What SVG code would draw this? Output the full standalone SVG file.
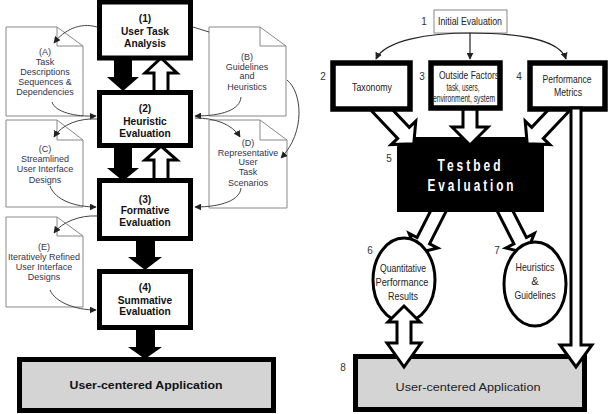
<svg xmlns="http://www.w3.org/2000/svg" width="616" height="414" viewBox="0 0 616 414">
<defs>
<marker id="ah" viewBox="0 0 10 10" refX="9" refY="5" markerWidth="7" markerHeight="7" markerUnits="userSpaceOnUse" orient="auto">
<path d="M0,0 L10,5 L0,10 z" fill="#222"/>
</marker>
<style>
.box{fill:#fff;stroke:#000;stroke-width:5}
.rbox{fill:#fff;stroke:#000;stroke-width:5.5}
.doc{fill:#fff;stroke:#888;stroke-width:1}
.fold{fill:none;stroke:#888;stroke-width:1}
.curve{fill:none;stroke:#444;stroke-width:1}
.blk{fill:#000}
.wht{fill:#fff;stroke:#000;stroke-width:3;stroke-linejoin:miter}
.bt{font-family:"Liberation Sans",Arial,sans-serif;font-weight:bold;font-size:10.2px;fill:#111;text-anchor:middle}
.dt{font-family:"Liberation Sans",Arial,sans-serif;font-size:9px;fill:#33334d;text-anchor:middle}
.rt{font-family:"Liberation Sans",Arial,sans-serif;font-size:11px;fill:#222;text-anchor:middle}
.num{font-family:"Liberation Sans",Arial,sans-serif;font-size:10px;fill:#333;text-anchor:middle}
.app{fill:#d4d4d4;stroke:#000;stroke-width:5}
</style>
</defs>
<rect width="616" height="414" fill="#fff"/>

<!-- LEFT PANEL -->
<g id="left-connectors">
<polygon class="blk" points="114,58 132,58 132,77 139,77 123,91 107,77 114,77"/>
<polygon class="wht" points="154,92 154,73 145,73 161,58 177,73 168,73 168,92"/>
<polygon class="blk" points="114,146 132,146 132,168 139,168 123,181 107,168 114,168"/>
<polygon class="wht" points="154,180 154,160 145,160 161,146 177,160 168,160 168,180"/>
<polygon class="blk" points="136,239 155,239 155,257 162,257 145,270 128,257 136,257"/>
<polygon class="blk" points="136,328 155,328 155,347 162,347 145,359 128,347 136,347"/>
</g>

<g id="docA">
<polygon class="doc" points="6,27 57,27 83,46 83,116 6,116"/>
<polyline class="fold" points="57,27 57,46 83,46"/>
<text class="dt"><tspan x="45" y="55">(A)</tspan><tspan x="45" y="65">Task</tspan><tspan x="45" y="75">Descriptions</tspan><tspan x="45" y="85">Sequences &amp;</tspan><tspan x="45" y="95">Dependencies</tspan></text>
</g>
<g id="docB">
<polygon class="doc" points="209,27 260,27 286,46 286,116 209,116"/>
<polyline class="fold" points="260,27 260,46 286,46"/>
<text class="dt"><tspan x="247" y="60">(B)</tspan><tspan x="247" y="70">Guidelines</tspan><tspan x="247" y="79">and</tspan><tspan x="247" y="90">Heuristics</tspan></text>
</g>
<g id="docC">
<polygon class="doc" points="6,120 57,120 83,140 83,207 6,207"/>
<polyline class="fold" points="57,120 57,140 83,140"/>
<text class="dt"><tspan x="45" y="152">(C)</tspan><tspan x="45" y="162">Streamlined</tspan><tspan x="45" y="172">User Interface</tspan><tspan x="45" y="183">Designs</tspan></text>
</g>
<g id="docD">
<polygon class="doc" points="209,120 260,120 287,140 287,208 209,208"/>
<polyline class="fold" points="260,120 260,140 287,140"/>
<text class="dt"><tspan x="248" y="146">(D)</tspan><tspan x="248" y="156">Representative</tspan><tspan x="248" y="165">User</tspan><tspan x="248" y="175">Task</tspan><tspan x="248" y="186">Scenarios</tspan></text>
</g>
<g id="docE">
<polygon class="doc" points="6,217 57,217 83,236 83,307 6,307"/>
<polyline class="fold" points="57,217 57,236 83,236"/>
<text class="dt"><tspan x="44" y="250">(E)</tspan><tspan x="44" y="260">Iteratively Refined</tspan><tspan x="44" y="270">User Interface</tspan><tspan x="44" y="280">Designs</tspan></text>
</g>

<g id="left-curves">
<path class="curve" marker-end="url(#ah)" d="M97,27 C80,22 64,30 54,43"/>
<path class="curve" marker-end="url(#ah)" d="M52,102 C55,112 75,117 96,116"/>
<path class="curve" marker-end="url(#ah)" d="M97,119 C80,118 62,124 54,137"/>
<path class="curve" marker-end="url(#ah)" d="M50,186 C55,200 75,207 96,207"/>
<path class="curve" marker-end="url(#ah)" d="M97,216 C80,215 62,222 54,233"/>
<path class="curve" marker-end="url(#ah)" d="M50,290 C55,302 75,310 96,310"/>
<path class="curve" d="M193,27 L209,32"/>
<path class="curve" marker-end="url(#ah)" d="M241,97 C240,110 222,116 195,116"/>
<path class="curve" marker-end="url(#ah)" d="M287,80 C302,92 306,132 281,158"/>
<path class="curve" marker-end="url(#ah)" d="M195,118 C215,118 232,124 240,137"/>
<path class="curve" marker-end="url(#ah)" d="M241,188 C240,200 222,207 195,207"/>
</g>

<g id="box1">
<rect class="box" x="99.5" y="2" width="91" height="56"/>
<text class="bt"><tspan x="145" y="22">(1)</tspan><tspan x="145" y="35">User Task</tspan><tspan x="145" y="47">Analysis</tspan></text>
</g>
<g id="box2">
<rect class="box" x="99.5" y="92.5" width="91" height="53"/>
<text class="bt"><tspan x="145" y="112">(2)</tspan><tspan x="145" y="125">Heuristic</tspan><tspan x="145" y="137">Evaluation</tspan></text>
</g>
<g id="box3">
<rect class="box" x="99.5" y="180.5" width="91" height="58"/>
<text class="bt"><tspan x="145" y="203">(3)</tspan><tspan x="145" y="214">Formative</tspan><tspan x="145" y="226">Evaluation</tspan></text>
</g>
<g id="box4">
<rect class="box" x="99.5" y="271.5" width="91" height="56"/>
<text class="bt"><tspan x="145" y="291">(4)</tspan><tspan x="145" y="304">Summative</tspan><tspan x="145" y="315">Evaluation</tspan></text>
</g>
<g id="appLeft">
<rect class="app" x="19.5" y="359.5" width="254" height="51"/>
<text class="bt" x="146" y="389" font-size="13" fill="#333" textLength="153" lengthAdjust="spacingAndGlyphs">User-centered Application</text>
</g>

<!-- RIGHT PANEL -->
<g id="init">
<text class="num" x="424" y="25">1</text>
<rect x="434" y="10" width="73" height="23" fill="#fff" stroke="#888" stroke-width="1"/>
<text class="rt" x="470" y="25" font-size="10" fill="#33334d" textLength="64" lengthAdjust="spacingAndGlyphs">Initial Evaluation</text>
</g>

<g id="right-connectors-a">
<path fill="none" stroke="#222" stroke-width="1.2" marker-end="url(#ah)" d="M470,33 C430,33 385,40 376,59"/>
<path fill="none" stroke="#222" stroke-width="1.2" marker-end="url(#ah)" d="M470,33 L470,59"/>
<path fill="none" stroke="#222" stroke-width="1.2" marker-end="url(#ah)" d="M470,33 C520,33 560,40 566,59"/>
<polygon class="wht" transform="translate(441.5,205) rotate(117)" points="0,-7 40,-7 40,-16 54,0 40,16 40,7 0,7"/>
<polygon class="wht" transform="translate(502,205) rotate(63)" points="0,-7 40,-7 40,-16 54,0 40,16 40,7 0,7"/>
</g>

<g id="testbed">
<rect x="397" y="137" width="147" height="75" fill="#000"/>
<text x="470.5" y="171" font-family="'Liberation Sans',Arial,sans-serif" font-weight="bold" font-size="16" fill="#fff" text-anchor="middle" textLength="66" lengthAdjust="spacingAndGlyphs" letter-spacing="4">Testbed</text>
<text x="472" y="191" font-family="'Liberation Sans',Arial,sans-serif" font-weight="bold" font-size="16" fill="#fff" text-anchor="middle" textLength="89" lengthAdjust="spacingAndGlyphs" letter-spacing="4">Evaluation</text>
<text class="num" x="389" y="162">5</text>
</g>

<g id="right-connectors-b">
<polygon class="wht" transform="translate(378,106) rotate(46.5)" points="0,-8 37,-8 37,-17 52,0 37,17 37,8 0,8"/>
<polygon class="wht" transform="translate(563,106) rotate(133.5)" points="0,-8 37,-8 37,-17 52,0 37,17 37,8 0,8"/>
<polygon class="wht" points="463,108 477,108 477,127 488,127 470,145 452,127 463,127"/>
</g>

<g id="taxonomy">
<text class="num" x="323" y="80">2</text>
<rect class="rbox" x="333" y="63" width="77" height="46"/>
<text class="rt" x="372" y="91" textLength="40" lengthAdjust="spacingAndGlyphs">Taxonomy</text>
</g>
<g id="outside">
<text class="num" x="422" y="80">3</text>
<rect class="rbox" x="431" y="63" width="69" height="45"/>
<text class="rt" x="469" y="79" textLength="60" lengthAdjust="spacingAndGlyphs">Outside Factors</text>
<text class="rt" x="463" y="91" font-size="9" textLength="33" lengthAdjust="spacingAndGlyphs">task, users,</text>
<text class="rt" x="464" y="102" font-size="9" textLength="62" lengthAdjust="spacingAndGlyphs">environment, system</text>
</g>
<g id="perf">
<text class="num" x="519" y="80">4</text>
<rect class="rbox" x="530" y="63" width="75" height="46"/>
<text class="rt" x="567" y="83" textLength="49" lengthAdjust="spacingAndGlyphs">Performance</text>
<text class="rt" x="568" y="96" textLength="28" lengthAdjust="spacingAndGlyphs">Metrics</text>
</g>

<g id="ell6">
<text class="num" x="370" y="254">6</text>
<ellipse cx="404" cy="280" rx="31" ry="42" fill="#fff" stroke="#000" stroke-width="3"/>
<text class="rt" font-size="10"><tspan x="403" y="272" textLength="46" lengthAdjust="spacingAndGlyphs">Quantitative</tspan><tspan x="402" y="286" textLength="53" lengthAdjust="spacingAndGlyphs">Performance</tspan><tspan x="403" y="300" textLength="30" lengthAdjust="spacingAndGlyphs">Results</tspan></text>
</g>
<g id="ell7">
<text class="num" x="497" y="254">7</text>
<ellipse cx="535" cy="284" rx="31" ry="42" fill="#fff" stroke="#000" stroke-width="3"/>
<text class="rt" font-size="10"><tspan x="535" y="271" textLength="39" lengthAdjust="spacingAndGlyphs">Heuristics</tspan><tspan x="535" y="285">&amp;</tspan><tspan x="535" y="299" textLength="41" lengthAdjust="spacingAndGlyphs">Guidelines</tspan></text>
</g>

<g id="appRight">
<text class="num" x="343" y="371">8</text>
<rect class="app" x="355.5" y="356.5" width="229" height="53"/>
<text class="rt" x="468" y="391" font-size="16" fill="#1a1a1a" textLength="145" lengthAdjust="spacingAndGlyphs">User-centered Application</text>
</g>

<g id="right-connectors-c">
<polygon class="wht" points="571,108 581,108 581,345 592,345 576,367 560,345 571,345"/>
<polygon class="wht" points="404,306 420,322 411,322 411,343 421,343 404,367 387,343 397,343 397,322 388,322"/>
</g>
</svg>
